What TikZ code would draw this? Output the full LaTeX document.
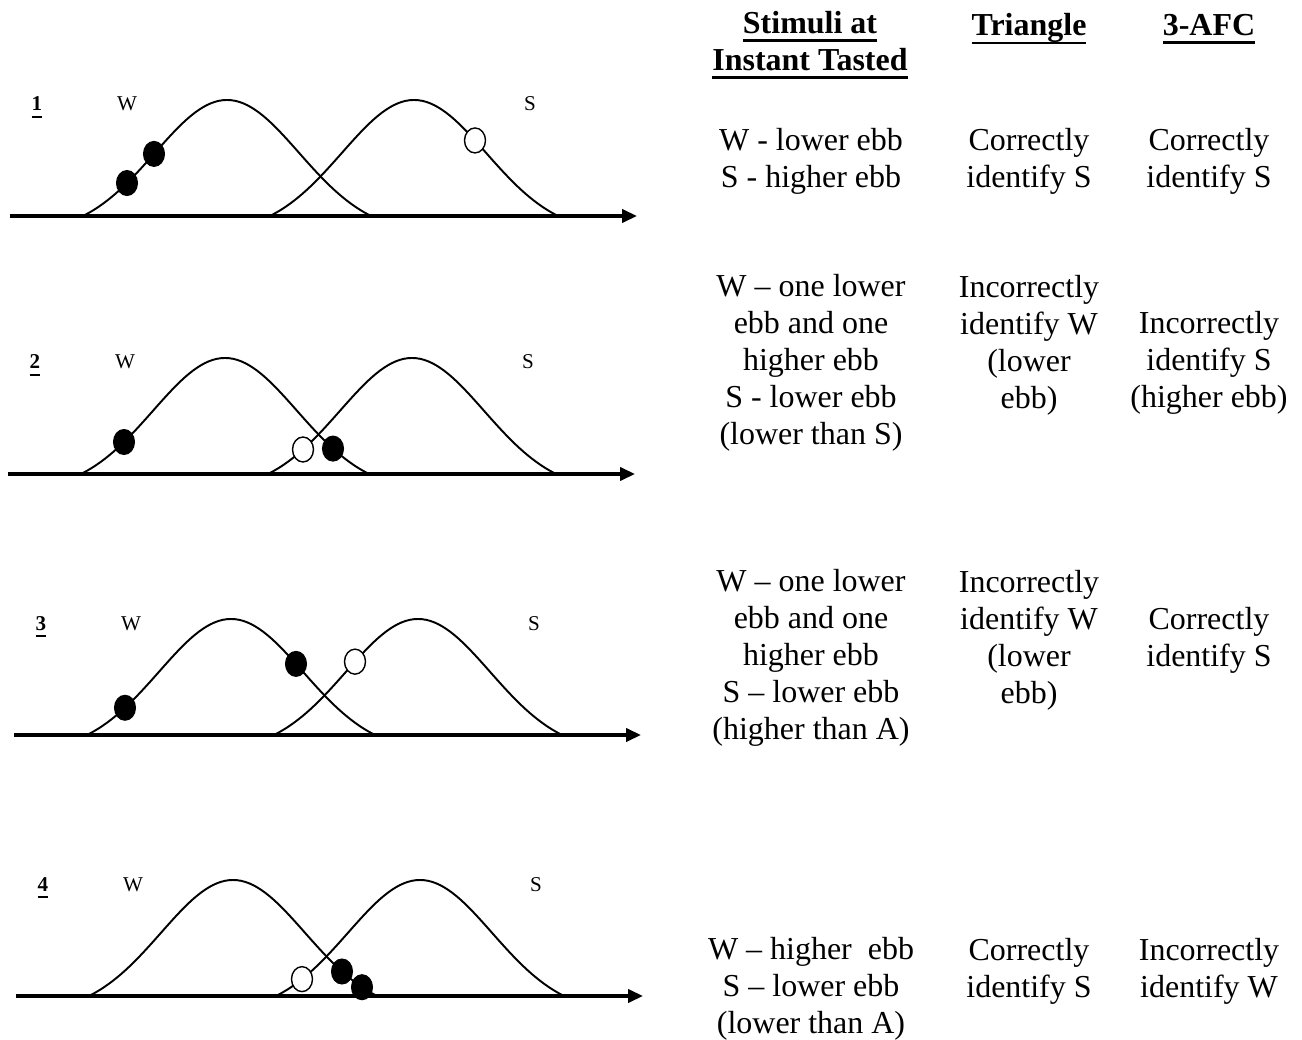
\documentclass[tikz,border=0pt]{standalone}
\usepackage{fontspec}
\setmainfont{Liberation Serif}
\usetikzlibrary{arrows.meta}
\pgfmathdeclarefunction{bell}{1}{%
  \pgfmathparse{116*(exp(-0.5*((#1)/72)*((#1)/72))-0.135335)/0.864665}%
}
\newcommand{\ulbox}[3]{\leavevmode\setbox0\hbox{#3}\rlap{\rule[-#1]{\wd0}{#2}}\box0}
\tikzset{
  curve/.style={line width=1.1pt},
  axisline/.style={line width=1.8pt,-{Triangle[length=8.5pt,width=7.5pt]}},
  blackdot/.style={draw,fill=black,line width=0.6pt},
  whitedot/.style={draw,fill=white,line width=0.8pt},
  panellbl/.style={anchor=base,inner sep=0pt,font=\fontsize{12}{14}\selectfont},
  cell/.style={align=center,inner sep=0pt,font=\fontsize{18.2}{21}\selectfont},
  head/.style={cell,font=\fontsize{18.2}{21}\selectfont\bfseries}
}
\begin{document}
\begin{tikzpicture}[x=0.02cm,y=-0.02cm]
  \useasboundingbox (0,0) rectangle (1302,1040);
  \foreach \n/\dx/\ay/\blk/\wht in {1/0/216/{127,154}/475,2/-2/474/{126,335}/305,3/4/735/{121,292}/351,4/6/996/{336,356}/296}{
    \begin{scope}[shift={(\dx,\ay)}]
      \draw[axisline] (10,0) -- (637,0);
      \draw[curve] plot[domain=-144:144,samples=73] ({227+\x},{-bell(\x)});
      \draw[curve] plot[domain=-144:144,samples=73] ({414+\x},{-bell(\x)});
      \foreach \bx in \blk
        \draw[blackdot] (\bx,{-bell(\bx-227)}) ellipse [x radius=10.5,y radius=12.5];
      \draw[whitedot] (\wht,{-bell(\wht-414)}) ellipse [x radius=10.5,y radius=12.5];
      \node[panellbl] (num\n) at (37,-105) {\ulbox{4.2pt}{1.4pt}{\textbf{\n}}};
      \node[panellbl] (wlab\n) at (127,-105) {W};
      \node[panellbl] (slab\n) at (530,-105) {S};
    \end{scope}
  }
  \node[head] (hdstim) at (810,45) {\ulbox{5pt}{1.6pt}{Stimuli at}\\\ulbox{5pt}{1.6pt}{Instant Tasted}};
  \node[head] (hdtri) at (1029,29) {\ulbox{5pt}{1.6pt}{Triangle}};
  \node[head] (hdafc) at (1209,29) {\ulbox{5pt}{1.6pt}{3-AFC}};
  \node[cell] (stim1) at (811,161) {W - lower ebb\\S - higher ebb};
  \node[cell] (tri1) at (1029,161) {Correctly\\identify S};
  \node[cell] (afc1) at (1209,161) {Correctly\\identify S};
  \node[cell] (stim2) at (811,363) {W – one lower\\ebb and one\\higher ebb\\S - lower ebb\\(lower than S)};
  \node[cell] (tri2) at (1029,345) {Incorrectly\\identify W\\(lower\\ebb)};
  \node[cell] (afc2) at (1209,363) {Incorrectly\\identify S\\(higher ebb)};
  \node[cell] (stim3) at (811,658) {W – one lower\\ebb and one\\higher ebb\\S – lower ebb\\(higher than A)};
  \node[cell] (tri3) at (1029,640) {Incorrectly\\identify W\\(lower\\ebb)};
  \node[cell] (afc3) at (1209,640) {Correctly\\identify S};
  \node[cell] (stim4) at (811,989) {W – higher\ \ ebb\\S – lower ebb\\(lower than A)};
  \node[cell] (tri4) at (1029,971) {Correctly\\identify S};
  \node[cell] (afc4) at (1209,971) {Incorrectly\\identify W};
\end{tikzpicture}
\end{document}
